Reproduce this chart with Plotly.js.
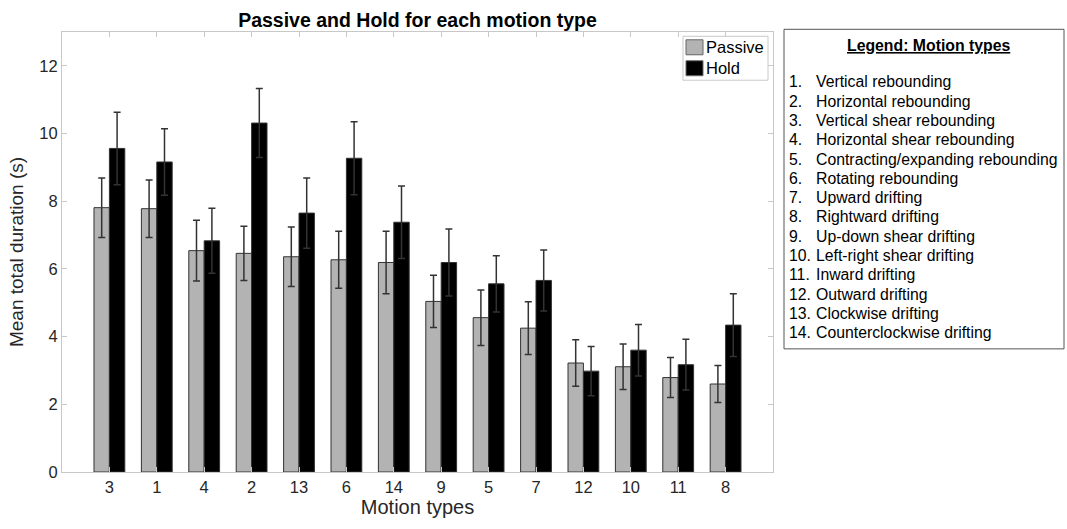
<!DOCTYPE html>
<html>
<head>
<meta charset="utf-8">
<script src="https://cdn.plot.ly/plotly-3.0.1.min.js"></script>
<style>html,body{margin:0;padding:0;background:#fff;}#chart{width:1067px;height:529px;}</style>
</head>
<body>
<div id="chart"></div>
<script>
var categories = ["3","1","4","2","13","6","14","9","5","7","12","10","11","8"];
var passive    = [7.81,7.78,6.54,6.46,6.36,6.27,6.19,5.04,4.56,4.25,3.22,3.11,2.79,2.60];
var passiveErr = [0.88,0.85,0.90,0.80,0.88,0.84,0.92,0.77,0.82,0.78,0.69,0.67,0.59,0.55];
var hold       = [9.56,9.16,6.83,10.31,7.65,9.27,7.38,6.19,5.56,5.66,2.98,3.60,3.17,4.34];
var holdErr    = [1.07,0.98,0.96,1.02,1.04,1.08,1.07,0.99,0.83,0.90,0.73,0.76,0.75,0.93];
var seriesNames = ["Passive","Hold"];
var seriesColors = ["#b3b3b3","#000000"];
var legendNumbers = ["1.","2.","3.","4.","5.","6.","7.","8.","9.","10.","11.","12.","13.","14."];
var legendLabels = ["Vertical rebounding","Horizontal rebounding","Vertical shear rebounding",
  "Horizontal shear rebounding","Contracting/expanding rebounding","Rotating rebounding",
  "Upward drifting","Rightward drifting","Up-down shear drifting","Left-right shear drifting",
  "Inward drifting","Outward drifting","Clockwise drifting","Counterclockwise drifting"];

(function(){
var FONT = "Liberation Sans, Arial, Helvetica, sans-serif";

var traces = [
  {type:"bar", name:seriesNames[0], x:categories, y:passive,
   marker:{color:seriesColors[0], line:{color:"#333333", width:1}},
   error_y:{type:"data", array:passiveErr, visible:true, color:"#333333", thickness:1.5, width:3.5}},
  {type:"bar", name:seriesNames[1], x:categories, y:hold,
   marker:{color:seriesColors[1], line:{color:"#333333", width:1}},
   error_y:{type:"data", array:holdErr, visible:true, color:"#333333", thickness:1.5, width:3.5}}
];

// pixel -> paper helpers (plot area: x 62..773, y 31.7..472.3)
var PL = 62, PW = 711, PT = 31.7, PH = 472.3 - 31.7;
function px(x){ return (x - PL) / PW; }
function py(y){ return 1 - (y - PT) / PH; }

var annotations = [];
var shapes = [];

// inner legend (Passive / Hold)
shapes.push({type:"rect", xref:"paper", yref:"paper", x0:px(683), x1:px(768), y0:py(80), y1:py(36),
  line:{color:"#c8c8c8", width:1}, fillcolor:"#ffffff"});
for (var s = 0; s < seriesNames.length; s++) {
  var sTop = 39.5 + s * 21;
  shapes.push({type:"rect", xref:"paper", yref:"paper", x0:px(686), x1:px(703), y0:py(sTop + 15), y1:py(sTop),
    line:{color:"#666666", width:1}, fillcolor:seriesColors[s]});
  annotations.push({xref:"paper", yref:"paper", x:px(704), y:py(sTop + 7.5), xanchor:"left", yanchor:"middle",
    text:seriesNames[s], showarrow:false, font:{family:FONT, size:16.5, color:"#000"}});
}

// side legend box
shapes.push({type:"rect", xref:"paper", yref:"paper", x0:px(784), x1:px(1064), y0:py(349), y1:py(29),
  line:{color:"#555555", width:1}, fillcolor:"rgba(0,0,0,0)"});
annotations.push({xref:"paper", yref:"paper", x:px(928), y:py(45), xanchor:"center", yanchor:"middle",
  text:"<b><u>Legend: Motion types</u></b>", showarrow:false, font:{family:FONT, size:15.8, color:"#000"}});
var y0px = 81.5, stepPx = 19.35;
for (var i = 0; i < legendLabels.length; i++) {
  var yp = py(y0px + i * stepPx);
  annotations.push({xref:"paper", yref:"paper", x:px(787), y:yp, xanchor:"left", yanchor:"middle",
    text:legendNumbers[i], showarrow:false, font:{family:FONT, size:15.8, color:"#000"}});
  annotations.push({xref:"paper", yref:"paper", x:px(814), y:yp, xanchor:"left", yanchor:"middle",
    text:legendLabels[i], showarrow:false, font:{family:FONT, size:15.8, color:"#000"}});
}

var layout = {
  width:1067, height:529,
  margin:{l:62, r:294, t:31.7, b:56.7},
  paper_bgcolor:"#fff", plot_bgcolor:"#fff",
  font:{family:FONT, color:"#262626"},
  barmode:"group", bargap:0.35, bargroupgap:0,
  showlegend:false,
  title:{text:"<b>Passive and Hold for each motion type</b>", x:px(417.5), xref:"paper", xanchor:"center",
         y:1, yref:"paper", yanchor:"bottom", pad:{b:5}, font:{family:FONT, size:19.5, color:"#000"}},
  xaxis:{type:"category", range:[-1,14], showgrid:false, zeroline:false,
         showline:true, linecolor:"#c8c8c8", linewidth:1, mirror:"ticks",
         ticks:"inside", ticklen:5, tickcolor:"#c8c8c8",
         tickfont:{family:FONT, size:16.5, color:"#262626"},
         title:{text:"Motion types", font:{family:FONT, size:20, color:"#262626"}, standoff:4}},
  yaxis:{range:[0,13], dtick:2, showgrid:false, zeroline:false,
         showline:true, linecolor:"#c8c8c8", linewidth:1, mirror:"ticks",
         ticks:"inside", ticklen:5, tickcolor:"#c8c8c8",
         tickfont:{family:FONT, size:16.5, color:"#262626"},
         title:{text:"Mean total duration (s)", font:{family:FONT, size:19, color:"#262626"}, standoff:10}},
  shapes:shapes,
  annotations:annotations
};

Plotly.newPlot("chart", traces, layout, {displayModeBar:false, staticPlot:true});
})();
</script>
</body>
</html>
